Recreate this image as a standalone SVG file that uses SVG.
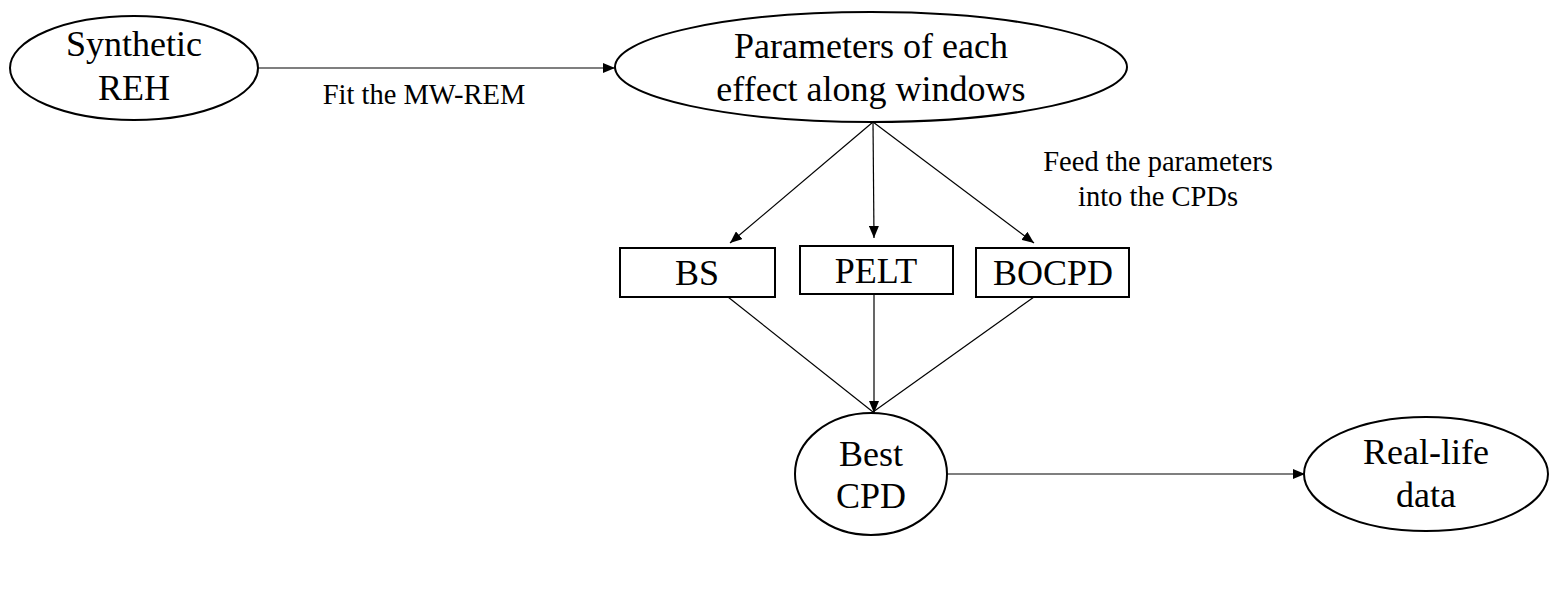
<svg xmlns="http://www.w3.org/2000/svg" width="1557" height="605" viewBox="0 0 1557 605">
<defs>
<style>
.shape{fill:#fff;stroke:#000;stroke-width:2}
.t{font-family:"Liberation Serif","Times New Roman",serif;font-size:36px;fill:#000;text-anchor:middle}
.lbl{font-family:"Liberation Serif","Times New Roman",serif;font-size:28.5px;fill:#000;text-anchor:middle}
.edge{stroke:#000;stroke-width:1.2;fill:none}
</style>
<marker id="arr" markerWidth="12" markerHeight="10" refX="12" refY="5" orient="auto" markerUnits="userSpaceOnUse">
<path d="M0,0 L12,5 L0,10 Z" fill="#000"/>
</marker>
</defs>
<rect width="1557" height="605" fill="#fff"/>
<g id="connectors">
<line class="edge" x1="258" y1="68" x2="615" y2="68" marker-end="url(#arr)"/>
<line class="edge" x1="873" y1="122" x2="730" y2="243" marker-end="url(#arr)"/>
<line class="edge" x1="873" y1="122" x2="874" y2="238" marker-end="url(#arr)"/>
<line class="edge" x1="873" y1="122" x2="1034" y2="243" marker-end="url(#arr)"/>
<line class="edge" x1="728" y1="297" x2="873" y2="412"/>
<line class="edge" x1="1034" y1="297" x2="873" y2="412"/>
<line class="edge" x1="874" y1="294" x2="874" y2="413" marker-end="url(#arr)"/>
<line class="edge" x1="947" y1="474" x2="1305" y2="474" marker-end="url(#arr)"/>
<text class="lbl" x="424" y="104">Fit the MW-REM</text>
<text class="lbl" x="1158" y="171">Feed the parameters</text>
<text class="lbl" x="1158" y="206">into the CPDs</text>
</g>
<g id="synthetic">
<ellipse class="shape" cx="134" cy="68" rx="124" ry="52"/>
<text class="t" x="134" y="56">Synthetic</text>
<text class="t" x="134" y="100">REH</text>
</g>
<g id="params">
<ellipse class="shape" cx="871" cy="67" rx="256" ry="55"/>
<text class="t" x="871" y="58">Parameters of each</text>
<text class="t" x="871" y="101">effect along windows</text>
</g>
<g id="bs">
<rect class="shape" x="620" y="248" width="155" height="49"/>
<text class="t" x="697" y="285">BS</text>
</g>
<g id="pelt">
<rect class="shape" x="800" y="246" width="153" height="48"/>
<text class="t" x="876" y="283">PELT</text>
</g>
<g id="bocpd">
<rect class="shape" x="976" y="248" width="153" height="49"/>
<text class="t" x="1053" y="285">BOCPD</text>
</g>
<g id="best">
<ellipse class="shape" cx="871" cy="474" rx="76" ry="61"/>
<text class="t" x="871" y="466">Best</text>
<text class="t" x="871" y="508">CPD</text>
</g>
<g id="reallife">
<ellipse class="shape" cx="1426" cy="474" rx="122" ry="57"/>
<text class="t" x="1426" y="464">Real-life</text>
<text class="t" x="1426" y="507">data</text>
</g>
</svg>
